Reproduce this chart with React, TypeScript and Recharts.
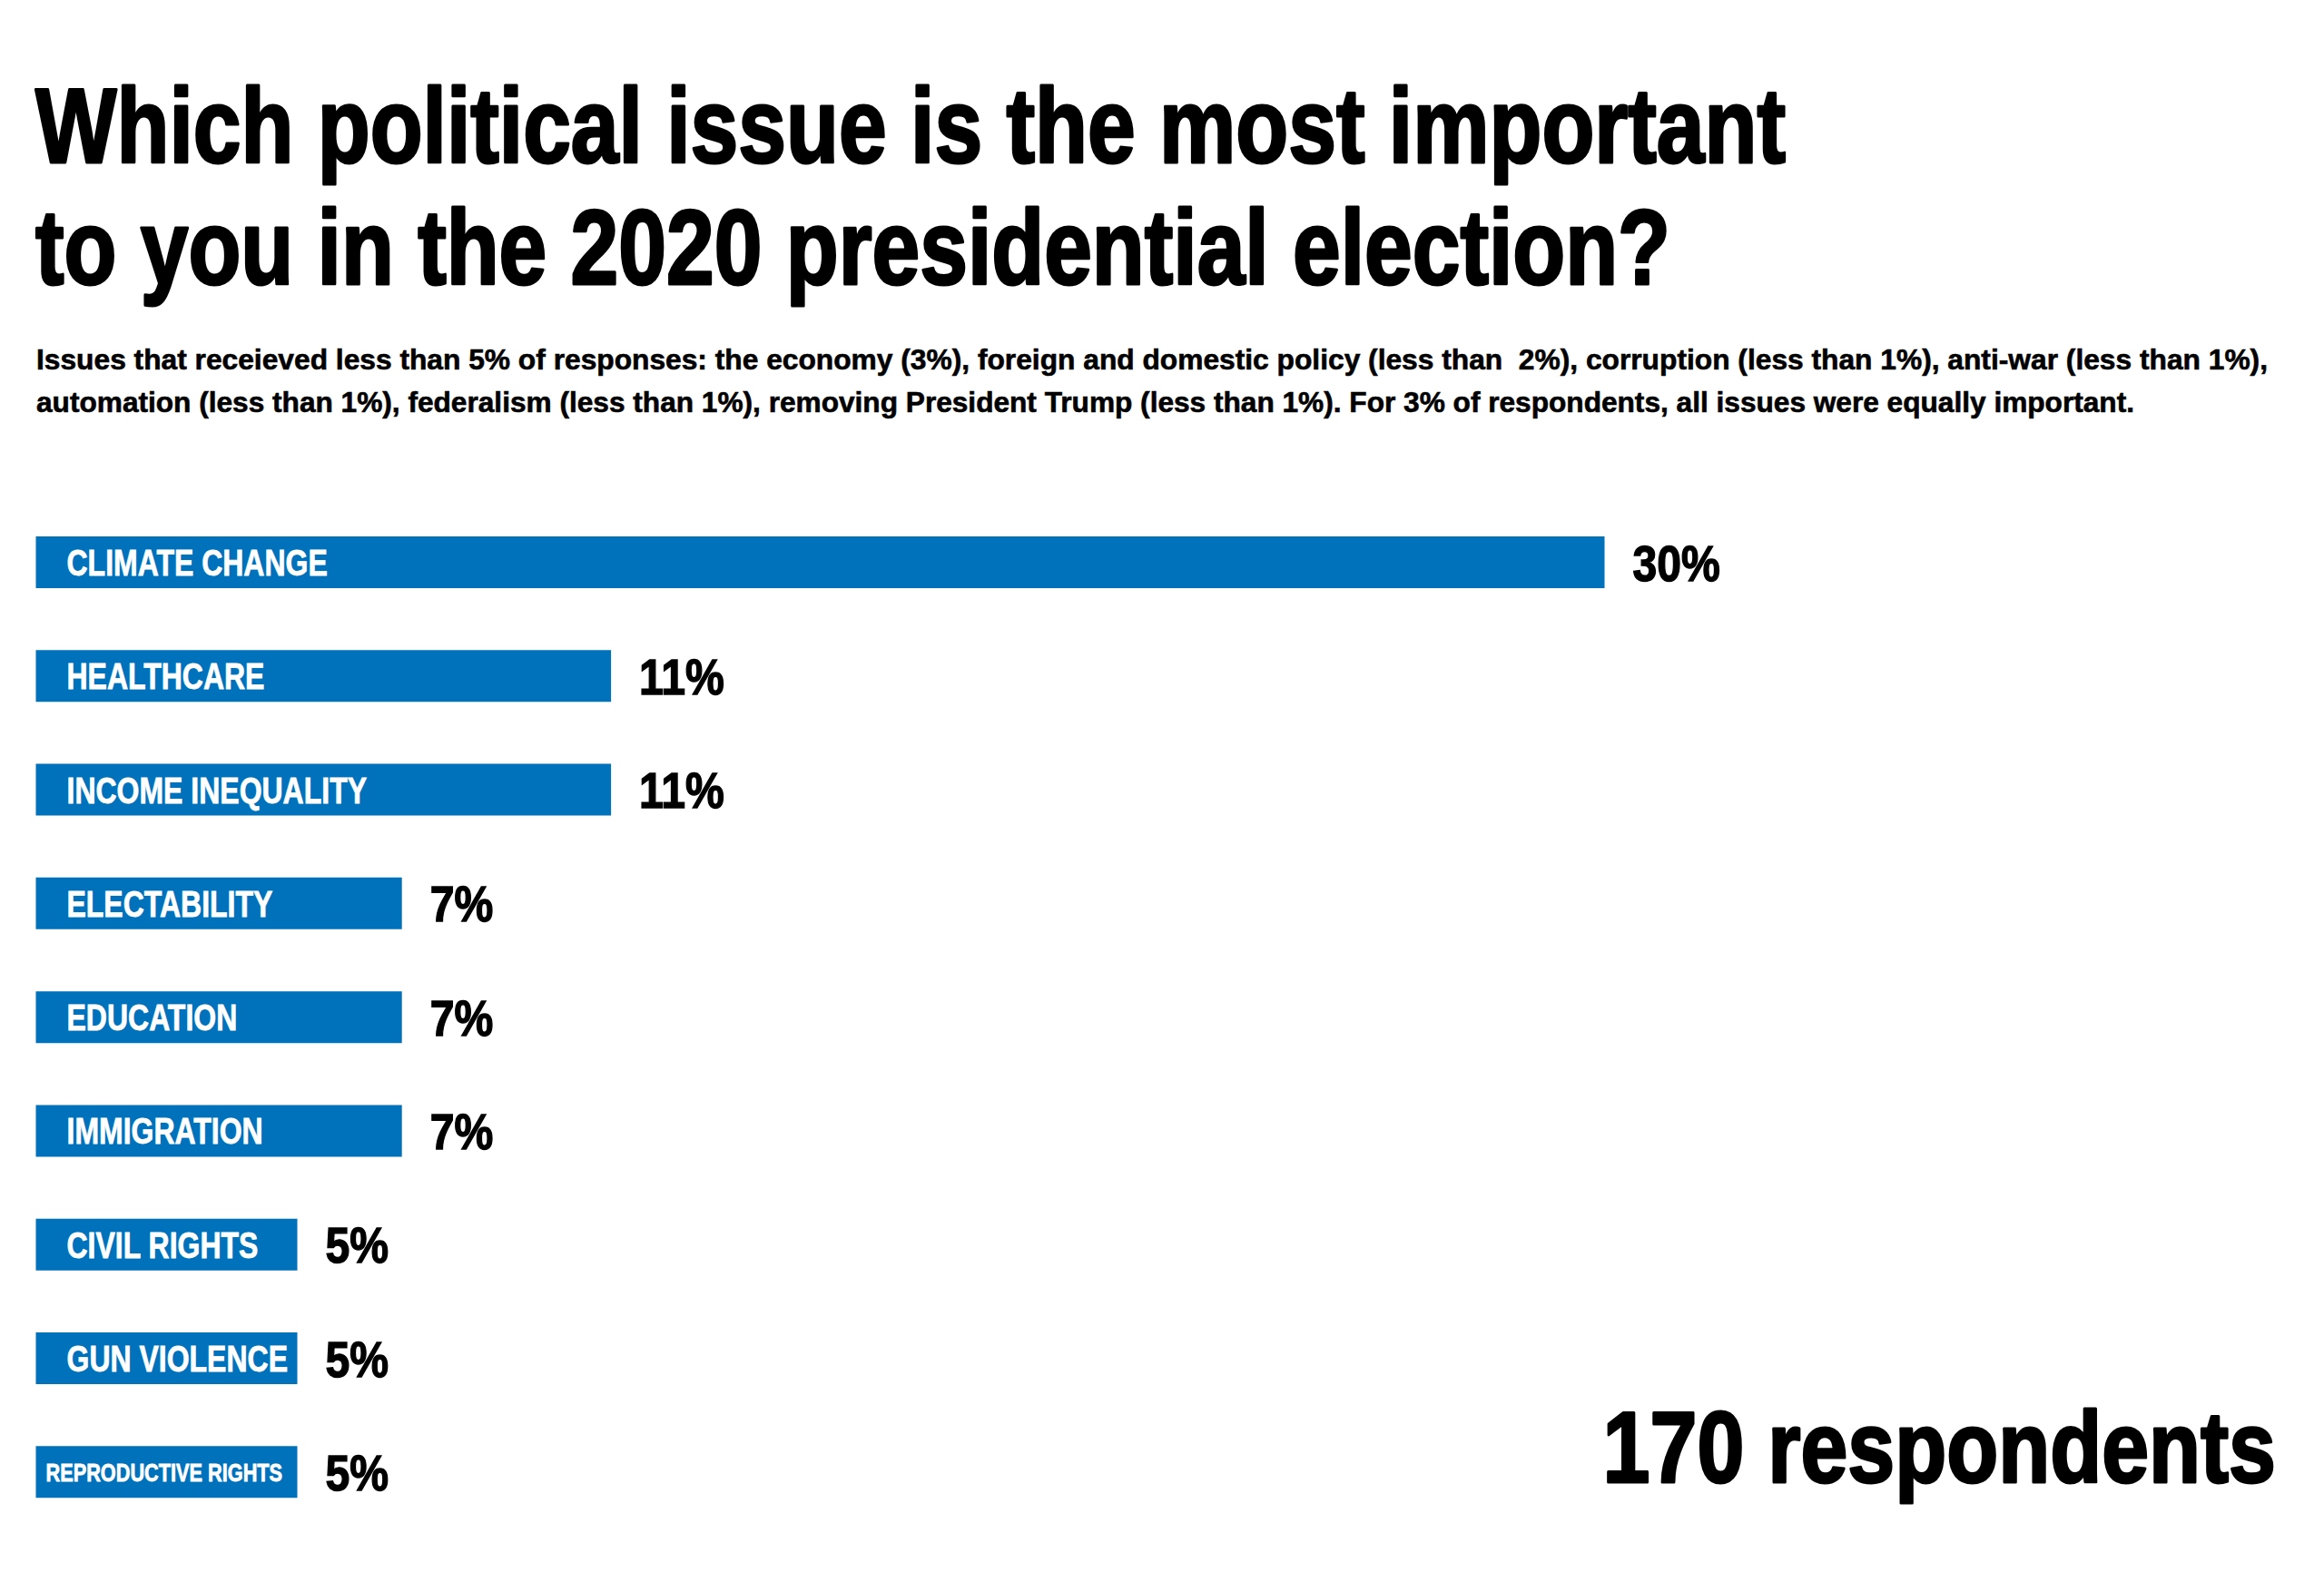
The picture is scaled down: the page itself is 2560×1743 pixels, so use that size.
import { BarChart, Bar, XAxis, YAxis, LabelList } from 'recharts';

// survey answers, top to bottom as printed
const issues = [
  'CLIMATE CHANGE',
  'HEALTHCARE',
  'INCOME INEQUALITY',
  'ELECTABILITY',
  'EDUCATION',
  'IMMIGRATION',
  'CIVIL RIGHTS',
  'GUN VIOLENCE',
  'REPRODUCTIVE RIGHTS',
];
const shares = [30, 11, 11, 7, 7, 7, 5, 5, 5];

const titleLines = [
  'Which political issue is the most important',
  'to you in the 2020 presidential election?',
];
const noteLines = [
  'Issues that receieved less than 5% of responses: the economy (3%), foreign and domestic policy (less than  2%), corruption (less than 1%), anti-war (less than 1%),',
  'automation (less than 1%), federalism (less than 1%), removing President Trump (less than 1%). For 3% of respondents, all issues were equally important.',
];
const respondents = 170;

const data = issues.map((name, i) => ({ name, value: shares[i] }));

const W = 2560;
const H = 1743;
const BLUE = '#0071bb';
const FONT = '"Liberation Sans", Arial, Helvetica, sans-serif';

// white issue name sitting inside the bar
const NameLabel = (props: any) => {
  const { x, y, height, value } = props;
  const long = String(value).length > 18;
  const fs = long ? 27.5 : 40.5;
  const pad = long ? 11 : 34;
  const base = y + height / 2 + fs * 0.358;
  return (
    <g transform={`translate(${x + pad},${base}) scale(0.79,1)`}>
      <text
        x={0}
        y={0}
        fill="#fff"
        stroke="#fff"
        strokeWidth={0.8}
        fontFamily={FONT}
        fontWeight="bold"
        fontSize={fs}
      >
        {String(value)}
      </text>
    </g>
  );
};

// percentage just past the end of the bar
const ValueLabel = (props: any) => {
  const { x, y, width, height, value } = props;
  const fs = 56;
  const base = y + height / 2 + fs * 0.358;
  return (
    <g transform={`translate(${x + width + 31},${base}) scale(0.86,1)`}>
      <text
        x={0}
        y={0}
        fill="#000"
        stroke="#000"
        strokeWidth={1.4}
        fontFamily={FONT}
        fontWeight="bold"
        fontSize={fs}
      >
        {`${value}%`}
      </text>
    </g>
  );
};

export default function App() {
  return (
    <div style={{ position: 'absolute', left: 0, top: 0, width: W, height: H, background: '#fff' }}>
      <BarChart
        width={W}
        height={H}
        data={data}
        layout="vertical"
        margin={{ top: 557, right: 792.5, bottom: 58.4, left: 39.5 }}
      >
        <XAxis type="number" domain={[0, 30]} hide />
        <YAxis type="category" dataKey="name" hide width={0} />
        <Bar dataKey="value" fill={BLUE} barSize={57} isAnimationActive={false}>
          <LabelList dataKey="name" content={NameLabel} />
          <LabelList dataKey="value" content={ValueLabel} />
        </Bar>
      </BarChart>

      <svg
        width={W}
        height={H}
        style={{ position: 'absolute', left: 0, top: 0, pointerEvents: 'none' }}
        fontFamily={FONT}
        fontWeight="bold"
      >
        <g stroke="#000" strokeWidth={3} strokeLinejoin="round">
          <text x={39} y={179} fontSize={116} textLength={1928} lengthAdjust="spacingAndGlyphs">
            {titleLines[0]}
          </text>
          <text x={39} y={313} fontSize={116} textLength={1801} lengthAdjust="spacingAndGlyphs">
            {titleLines[1]}
          </text>
        </g>
        <g stroke="#000" strokeWidth={0.6}>
          <text
            x={40}
            y={407}
            fontSize={31}
            textLength={2458}
            lengthAdjust="spacingAndGlyphs"
            style={{ whiteSpace: 'pre' }}
          >
            {noteLines[0]}
          </text>
          <text x={40} y={454} fontSize={31} textLength={2311} lengthAdjust="spacingAndGlyphs">
            {noteLines[1]}
          </text>
        </g>
        <g transform="translate(2507,1633) scale(0.833,1)">
          <text
            x={0}
            y={0}
            fontSize={112}
            textAnchor="end"
            stroke="#000"
            strokeWidth={3}
            strokeLinejoin="round"
          >
            {`${respondents} respondents`}
          </text>
        </g>
      </svg>
    </div>
  );
}
